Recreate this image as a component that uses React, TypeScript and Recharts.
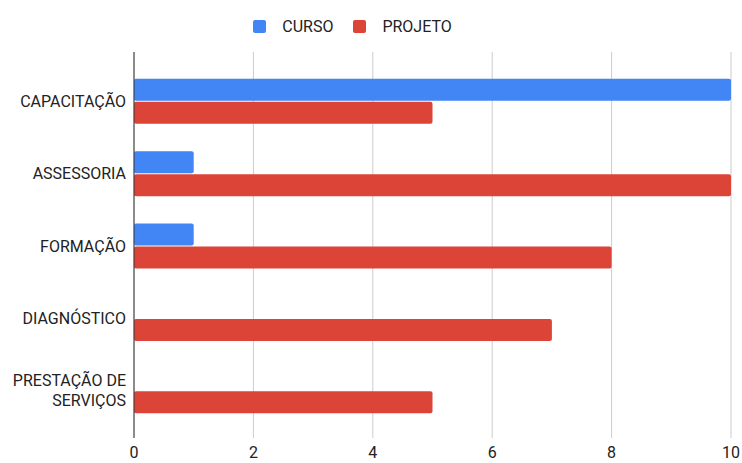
import { Bar, BarChart, CartesianGrid, Legend, XAxis, YAxis } from "recharts"

const categories = ["CAPACITAÇÃO", "ASSESSORIA", "FORMAÇÃO", "DIAGNÓSTICO", "PRESTAÇÃO DE SERVIÇOS"]
const curso = [10, 1, 1, 0, 0]
const projeto = [5, 10, 8, 7, 5]
const xTicks = [0, 2, 4, 6, 8, 10]

const seriesInfo = [
  { key: "curso", name: "CURSO", color: "#4285F4" },
  { key: "projeto", name: "PROJETO", color: "#DB4437" },
]

const data = categories.map((c, i) => ({ name: c, curso: curso[i], projeto: projeto[i] }))

const FONT = "Roboto, 'Noto Sans', sans-serif"

function CategoryTick(props: any) {
  const { x, y, payload } = props
  const text: string = payload.value
  let lines = [text]
  if (text.length > 13) {
    const cut = text.lastIndexOf(" ")
    lines = [text.slice(0, cut), text.slice(cut + 1)]
  }
  const lineH = 20
  const startY = y - ((lines.length - 1) * lineH) / 2
  return (
    <text x={x} y={startY} textAnchor="end" fill="#222" fontSize={16} fontFamily={FONT}>
      {lines.map((l, i) => (
        <tspan key={i} x={x} y={startY + i * lineH} dy="0.355em">
          {l}
        </tspan>
      ))}
    </text>
  )
}

function TopLegend() {
  return (
    <div
      style={{
        height: 40,
        display: "flex",
        justifyContent: "center",
        paddingRight: 26,
        fontFamily: FONT,
        fontSize: 16,
        color: "#222",
      }}
    >
      {seriesInfo.map((s, i) => (
        <div key={s.key} style={{ display: "flex", alignItems: "center", height: 28, marginLeft: i ? 20 : 0 }}>
          <span style={{ width: 13, height: 13, background: s.color, borderRadius: 2, marginRight: 16, display: "inline-block" }} />
          <span>{s.name}</span>
        </div>
      ))}
    </div>
  )
}

export default function App() {
  return (
    <div style={{ position: "absolute", left: 0, top: 0, width: 742, height: 463, background: "#fff" }}>
      <BarChart
        width={742}
        height={463}
        data={data}
        layout="vertical"
        margin={{ top: 12, right: 11, bottom: 0, left: 0 }}
        barCategoryGap="19%"
        barGap={1}
      >
        <CartesianGrid horizontal={false} stroke="#ccc" />
        <XAxis
          type="number"
          domain={[0, 10]}
          ticks={xTicks}
          axisLine={false}
          tickLine={false}
          tickMargin={3}
          height={25}
          tick={{ fill: "#222", fontSize: 16, fontFamily: FONT }}
          interval={0}
        />
        <YAxis
          type="category"
          dataKey="name"
          width={134}
          axisLine={{ stroke: "#333" }}
          tickLine={false}
          padding={{ top: 13, bottom: 11 }}
          tick={<CategoryTick />}
          interval={0}
        />
        <Legend verticalAlign="top" content={<TopLegend />} />
        {seriesInfo.map((s) => (
          <Bar key={s.key} dataKey={s.key} name={s.name} fill={s.color} radius={2} isAnimationActive={false} />
        ))}
      </BarChart>
    </div>
  )
}
